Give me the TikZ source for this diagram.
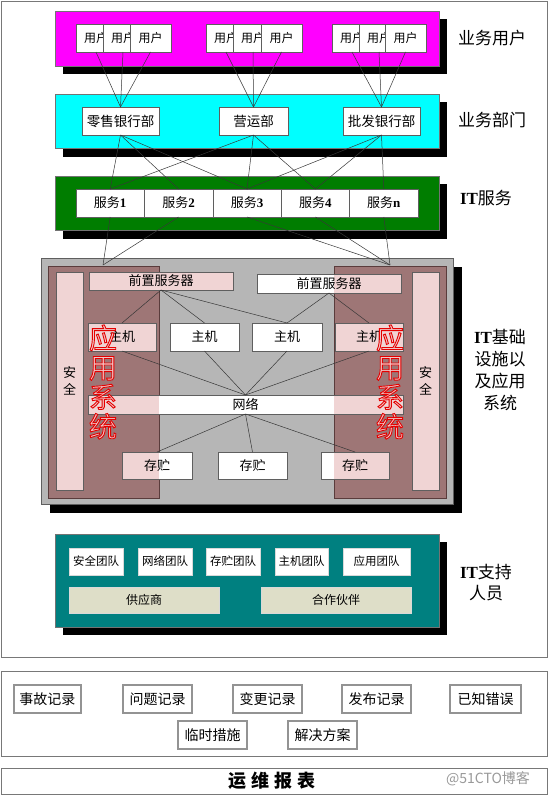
\documentclass[tikz,border=0pt]{standalone}
\usepackage{fontspec}
\setmainfont{Noto Sans CJK SC}
\newfontfamily\tnr{Liberation Serif}
\definecolor{magc}{RGB}{255,0,255}
\definecolor{cyanc}{RGB}{0,255,255}
\definecolor{greenc}{RGB}{0,125,0}
\definecolor{tealc}{RGB}{0,128,128}
\definecolor{grayc}{RGB}{182,182,182}
\definecolor{brownc}{RGB}{158,118,118}
\definecolor{brownedge}{RGB}{90,60,60}
\definecolor{pinkc}{RGB}{240,212,212}
\definecolor{beigec}{RGB}{222,222,200}
\definecolor{linec}{RGB}{55,55,55}
\definecolor{edgec}{RGB}{95,95,95}
\definecolor{framec}{RGB}{120,120,120}
\definecolor{redfill}{RGB}{240,200,200}
\newcommand\outlinetext[1]{{\color{redfill}\special{pdf:literal direct 0.9 0 0 RG 0.9 w 2 Tr}#1\special{pdf:literal direct 0 Tr}}}
\newcommand\fsz[2]{\fontsize{#1}{#2}\selectfont}
\begin{document}
\begin{tikzpicture}[x=1pt,y=-1pt,
  wbox/.style={draw=edgec, fill=white, line width=0.6pt, inner sep=0pt, outer sep=0pt},
  conn/.style={draw=linec, line width=0.5pt},
  lay/.style={draw=black!55, line width=0.5pt},
  frm/.style={draw=framec, line width=0.9pt},
  lbl/.style={font=\fsz{17}{22}, align=center, inner sep=0pt},
  inL/.style={path picture={\fill[pinkc] (bL.north west) rectangle (bL.south east);}},
  inR/.style={path picture={\fill[pinkc] (bR.north west) rectangle (bR.south east);}},
  recbox/.style={draw=gray!85, line width=1.2pt, fill=white, inner sep=0pt, minimum height=28, font=\fsz{14}{16}},
  apptext/.style={font=\fsz{28}{29.5}, text width=34, align=center, inner sep=0pt},
]
\useasboundingbox (0,0) rectangle (549,795);
\fill[white] (0,0) rectangle (549,795);

% frames
\draw[frm] (1,1) rectangle (547.5,657);
\draw[frm] (1,671) rectangle (547.5,756);
\draw[frm] (1,768) rectangle (547.5,794);

% ---------- layer 1 : business users
\fill[black] (63,19) rectangle (447,74);
\draw[lay, fill=magc] (55,11) rectangle (439,66);
\foreach \n/\c/\w in {u11/96/40, u12/123/40, u13/150.5/41, u21/226/40, u22/253/40, u23/281.5/41, u31/352/40, u32/379/40, u33/405.5/41}
  \node[wbox, minimum width=\w, minimum height=28, font=\fsz{12}{14}] (\n) at (\c,38) {用户};
\node[lbl] (lab1) at (492,38) {业务用户};

% ---------- layer 2 : departments
\fill[black] (63,102) rectangle (447,157);
\draw[lay, fill=cyanc] (55,94) rectangle (439,148);
\node[wbox, minimum width=77, minimum height=28, font=\fsz{13.5}{15}] (d1) at (120.5,121) {零售银行部};
\node[wbox, minimum width=69, minimum height=28, font=\fsz{13.5}{15}] (d2) at (253.5,121) {营运部};
\node[wbox, minimum width=77, minimum height=28, font=\fsz{13.5}{15}] (d3) at (381.5,121) {批发银行部};
\node[lbl] (lab2) at (492,120) {业务部门};

% ---------- layer 3 : IT services
\fill[black] (63,184) rectangle (447,239);
\draw[lay, fill=greenc] (55,176) rectangle (439,230);
\foreach \n/\c/\t in {s1/110.2/1, s2/178.6/2, s3/247/3, s4/315.4/4, s5/383.8/n}
  \node[wbox, minimum width=68.4, minimum height=28, font=\fsz{13}{15}] (\n) at (\c,203) {服务{\tnr\bfseries\t}};
\node[lbl] (lab3) at (486,198) {{\tnr\bfseries IT}服务};

% ---------- layer 4 : infrastructure
\fill[black] (50,267) rectangle (462,513);
\draw[draw=edgec, line width=0.8pt, fill=grayc] (41,258) rectangle (453,504);
\node[draw=brownedge, fill=brownc, line width=0.6pt, minimum width=111, minimum height=232, inner sep=0pt, outer sep=0pt] (bL) at (103.5,382) {};
\node[draw=brownedge, fill=brownc, line width=0.6pt, minimum width=112, minimum height=232, inner sep=0pt, outer sep=0pt] (bR) at (390,382) {};
\node[wbox, fill=pinkc, minimum width=27, minimum height=218, align=center, font=\fsz{13}{17}] (aL) at (69.5,381) {安\\全};
\node[wbox, fill=pinkc, minimum width=27, minimum height=218, align=center, font=\fsz{13}{17}] (aR) at (425.5,381) {安\\全};
\node[wbox, fill=pinkc, minimum width=144, minimum height=18, font=\fsz{13}{15}] (pL) at (161,281) {前置服务器};
\node[wbox, inR, minimum width=144, minimum height=19, font=\fsz{13}{15}] (pR) at (329,283.5) {前置服务器};
\node[wbox, inL, minimum width=68, minimum height=28, font=\fsz{13}{15}] (h1) at (122,337) {主机};
\node[wbox, minimum width=69, minimum height=28, font=\fsz{13}{15}] (h2) at (204.5,337) {主机};
\node[wbox, minimum width=70, minimum height=28, font=\fsz{13}{15}] (h3) at (287,337) {主机};
\node[wbox, inR, minimum width=68, minimum height=28, font=\fsz{13}{15}] (h4) at (369,337) {主机};
\node[wbox, path picture={\fill[pinkc] (bL.north west) rectangle (bL.south east); \fill[pinkc] (bR.north west) rectangle (bR.south east);}, minimum width=315, minimum height=19, font=\fsz{13}{15}] (net) at (245.5,404.5) {网络};
\node[wbox, inL, minimum width=70, minimum height=27, font=\fsz{13}{15}] (c1) at (157,465.5) {存贮};
\node[wbox, minimum width=69, minimum height=27, font=\fsz{13}{15}] (c2) at (252.5,465.5) {存贮};
\node[wbox, inR, minimum width=68, minimum height=27, font=\fsz{13}{15}] (c3) at (355,465.5) {存贮};
\node[lbl] (lab4) at (500,370) {{\tnr\bfseries IT}基础\\设施以\\及应用\\系统};

\foreach \h in {h1,h2,h3} \draw[conn] (pL.south) -- (\h.north);
\foreach \h in {h3,h4} \draw[conn] (pR.south) -- (\h.north);
\foreach \h in {h1,h2,h3,h4} \draw[conn] (\h.south) -- (net.north);
\foreach \c in {c1,c2,c3} \draw[conn] (net.south) -- (\c.north);

\node[apptext] (yyL) at (103,382) {\outlinetext{应}\\\outlinetext{用}\\\outlinetext{系}\\\outlinetext{统}};
\node[apptext] (yyR) at (390,382) {\outlinetext{应}\\\outlinetext{用}\\\outlinetext{系}\\\outlinetext{统}};

% ---------- layer 5 : IT support staff
\fill[black] (63,542) rectangle (447,635);
\draw[lay, fill=tealc] (55,534) rectangle (439,627);
\foreach \n/\c/\w/\t in {t1/96/54/安全团队, t2/165/54/网络团队, t3/233/54/存贮团队, t4/301.5/53/主机团队, t5/376.5/67/应用团队}
  \node[wbox, draw=white!70!gray, minimum width=\w, minimum height=27, font=\fsz{11.5}{13}] (\n) at (\c,561.5) {\t};
\node[wbox, draw=white!70!gray, fill=beigec, minimum width=150, minimum height=26, font=\fsz{12}{14}] (p1) at (144,600) {供应商};
\node[wbox, draw=white!70!gray, fill=beigec, minimum width=150, minimum height=26, font=\fsz{12}{14}] (p2) at (336,600) {合作伙伴};
\node[lbl, font=\fsz{17}{21}] (lab5) at (486,582.5) {{\tnr\bfseries IT}支持\\人员};

% ---------- connectors between layers
\foreach \u in {u11,u12,u13} \draw[conn] (\u.south) -- (d1.north);
\foreach \u in {u21,u22,u23} \draw[conn] (\u.south) -- (d2.north);
\foreach \u in {u31,u32,u33} \draw[conn] (\u.south) -- (d3.north);
\foreach \s in {s1,s2,s3} \draw[conn] (d1.south) -- (\s.north);
\foreach \s in {s1,s3,s4} \draw[conn] (d2.south) -- (\s.north);
\foreach \s in {s3,s4,s5} \draw[conn] (d3.south) -- (\s.north);
\coordinate (jL) at (103,265);
\coordinate (jR) at (390,265);
\foreach \s in {s1,s2} \draw[conn] (\s.south) -- (jL);
\foreach \s in {s3,s4,s5} \draw[conn] (\s.south) -- (jR);

% ---------- records
\node[recbox, minimum width=67] (r1) at (47.5,699) {事故记录};
\node[recbox, minimum width=69] (r2) at (157.5,699) {问题记录};
\node[recbox, minimum width=69] (r3) at (267.5,699) {变更记录};
\node[recbox, minimum width=69] (r4) at (376.5,699) {发布记录};
\node[recbox, minimum width=71] (r5) at (485.5,699) {已知错误};
\node[recbox, minimum width=69] (r6) at (212.5,735) {临时措施};
\node[recbox, minimum width=69] (r7) at (322.5,735) {解决方案};

\node[font=\fsz{18}{20}\bfseries, inner sep=0pt] (rep) at (272,781) {运\hspace{5pt}维\hspace{5pt}报\hspace{5pt}表};
\node[font=\fsz{14}{16}, text=gray!80, inner sep=0pt] (wm) at (488,779) {@51CTO博客};
\end{tikzpicture}
\end{document}
